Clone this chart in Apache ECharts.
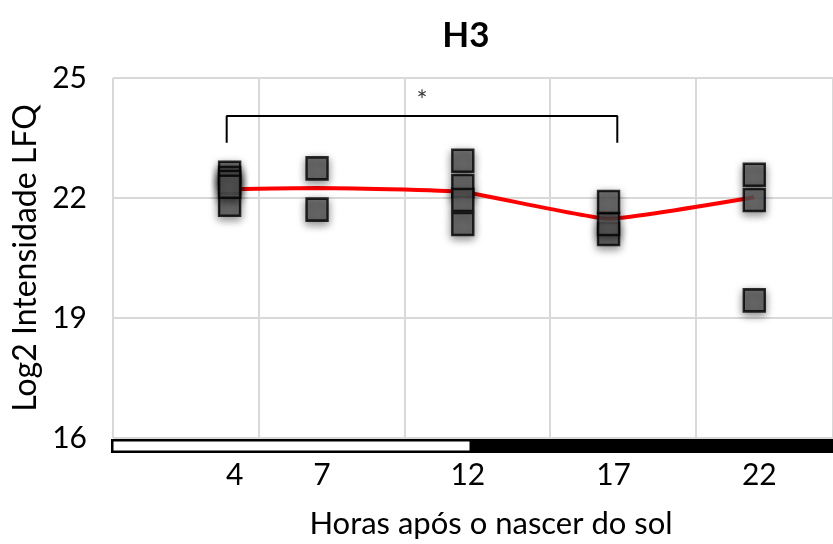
<!DOCTYPE html>
<html>
<head>
<meta charset="utf-8">
<script src="https://cdn.jsdelivr.net/npm/echarts@6/dist/echarts.min.js"></script>
<style>
  html, body { margin: 0; padding: 0; background: #fff; }
  #main { width: 833px; height: 544px; }
</style>
</head>
<body>
<div id="main"></div>
<script>
// horas apos o nascer do sol
var hourTicks = [4, 7, 12, 17, 22];
// replicas (Log2 LFQ), na ordem em que sao desenhadas
var h4 = [22.63, 22.50, 22.40, 21.83, 22.28];
var h7 = [22.74, 21.71];
var h12 = [22.93, 22.30, 21.95, 21.35];
var h17 = [21.10, 21.35, 21.90];
var h22 = [19.44, 22.58, 21.95];
// linha vermelha (media)
var meanLine = [22.22, 22.25, 22.15, 21.48, 22.02];
// eixo y
var yMin = 16, yMax = 25, yStep = 3;
// eixo x e ciclo claro/escuro
var xMin = 0, xMax = 24.7, gridStep = 5;
var lightsOff = 12.35;
// colchete de significancia 4 vs 17
var bracketX = [3.9, 17.3];
var bracketBottom = 23.38, bracketTop = 24.05;
var starPos = [10.6, 24.42];

var FONT = 'Lato, "Open Sans", sans-serif';

var chartDom = document.getElementById('main');
var myChart = echarts.init(chartDom);
var option;

var groups = [h4, h7, h12, h17, h22];
var points = [];
groups.forEach(function (vals, i) {
    vals.forEach(function (v) {
        points.push([hourTicks[i], v]);
    });
});

var lineData = hourTicks.map(function (h, i) { return [h, meanLine[i]]; });

var bracket = [
    [bracketX[0], bracketBottom],
    [bracketX[0], bracketTop],
    [bracketX[1], bracketTop],
    [bracketX[1], bracketBottom]
];

option = {
    animation: false,
    title: {
        text: 'H3',
        left: 461,
        top: 13,
        textAlign: 'center',
        textStyle: {
            fontFamily: FONT,
            fontSize: 35,
            fontWeight: 'bold',
            color: '#000'
        }
    },
    grid: [
        { left: 113, top: 78, right: 0, bottom: 106, containLabel: false },
        { left: 111, top: 439, right: 0, height: 14, containLabel: false }
    ],
    xAxis: [
        {
            // linhas de grade a cada 5 h
            type: 'value',
            gridIndex: 0,
            min: xMin,
            max: xMax,
            interval: gridStep,
            axisLine: { show: false },
            axisTick: { show: false },
            axisLabel: { show: false },
            splitLine: { show: true, lineStyle: { color: '#d9d9d9', width: 2 } }
        },
        {
            // rotulos das horas
            type: 'value',
            gridIndex: 0,
            position: 'bottom',
            min: xMin,
            max: xMax,
            interval: 1,
            name: 'Horas após o nascer do sol',
            nameLocation: 'middle',
            nameGap: 70,
            nameTextStyle: {
                fontFamily: FONT, fontSize: 31, color: '#000',
                padding: [0, 0, 0, 36]
            },
            axisLine: { show: false },
            axisTick: { show: false },
            splitLine: { show: false },
            axisLabel: {
                margin: 22,
                fontFamily: FONT,
                fontSize: 30,
                color: '#000',
                padding: [0, 0, 0, 10],
                showMaxLabel: false,
                formatter: function (v) {
                    return hourTicks.indexOf(v) >= 0 ? String(v) : '';
                }
            }
        },
        {
            type: 'value',
            gridIndex: 1,
            min: xMin,
            max: xMax,
            show: false
        }
    ],
    yAxis: [
        {
            type: 'value',
            gridIndex: 0,
            min: yMin,
            max: yMax,
            interval: yStep,
            name: 'Log2 Intensidade LFQ',
            nameLocation: 'middle',
            nameGap: 70,
            nameTextStyle: { fontFamily: FONT, fontSize: 32, color: '#000' },
            axisLine: { show: false },
            axisTick: { show: false },
            axisLabel: { margin: 26, fontFamily: FONT, fontSize: 30, color: '#000' },
            splitLine: { show: true, lineStyle: { color: '#d9d9d9', width: 2 } }
        },
        {
            type: 'category',
            gridIndex: 1,
            data: ['ciclo'],
            show: false
        }
    ],
    series: [
        {
            name: 'média',
            type: 'line',
            xAxisIndex: 0,
            yAxisIndex: 0,
            data: lineData,
            smooth: 0.12,
            symbol: 'none',
            lineStyle: { color: '#ff0000', width: 4 },
            z: 2
        },
        {
            name: 'réplicas',
            type: 'scatter',
            xAxisIndex: 0,
            yAxisIndex: 0,
            data: points,
            symbol: 'rect',
            symbolSize: [21, 22],
            itemStyle: {
                color: '#5a5a5a',
                borderColor: '#000',
                borderWidth: 2.5,
                shadowBlur: 8,
                shadowColor: 'rgba(0,0,0,0.55)',
                shadowOffsetY: 3
            },
            z: 3
        },
        {
            name: 'colchete',
            type: 'line',
            xAxisIndex: 0,
            yAxisIndex: 0,
            data: bracket,
            symbol: 'none',
            lineStyle: { color: '#000', width: 2 },
            z: 4
        },
        {
            name: 'signif',
            type: 'scatter',
            xAxisIndex: 0,
            yAxisIndex: 0,
            data: [starPos],
            symbolSize: 0,
            label: {
                show: true,
                position: 'inside',
                formatter: '*',
                fontFamily: FONT,
                fontSize: 26,
                color: '#000'
            },
            z: 4
        },
        {
            name: 'claro',
            type: 'bar',
            xAxisIndex: 2,
            yAxisIndex: 1,
            stack: 'ciclo',
            data: [lightsOff - xMin],
            barWidth: '100%',
            itemStyle: { color: '#fff', borderColor: '#000', borderWidth: 2.5 }
        },
        {
            name: 'escuro',
            type: 'bar',
            xAxisIndex: 2,
            yAxisIndex: 1,
            stack: 'ciclo',
            data: [xMax - lightsOff],
            barWidth: '100%',
            itemStyle: { color: '#000', borderColor: '#000', borderWidth: 2.5 }
        }
    ]
};

option && myChart.setOption(option);
</script>
</body>
</html>
